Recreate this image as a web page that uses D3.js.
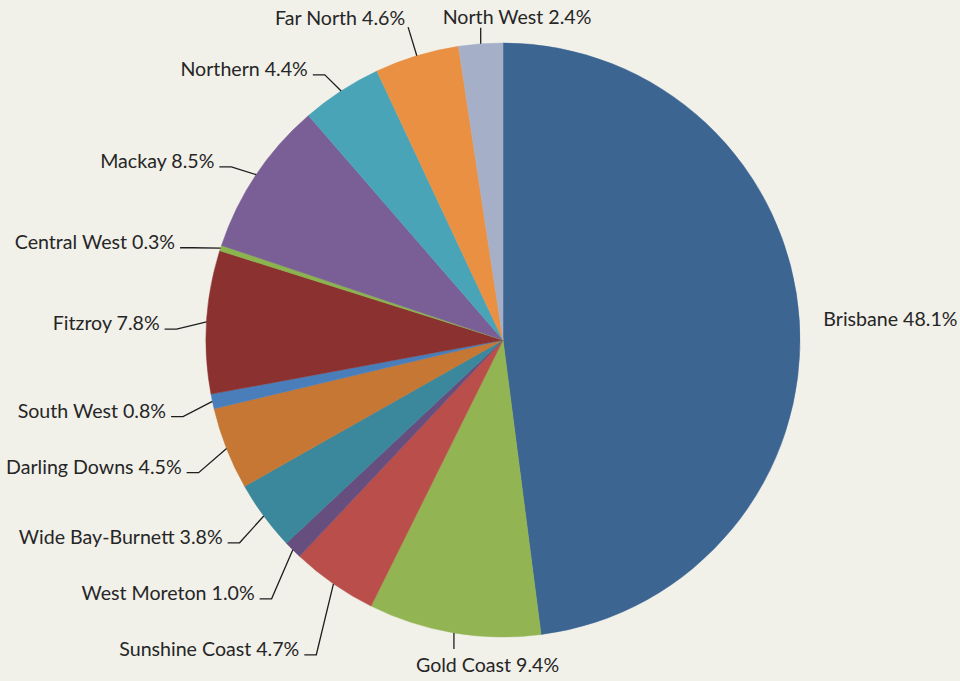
<!DOCTYPE html>
<html>
<head>
<meta charset="utf-8">
<script src="https://cdn.jsdelivr.net/npm/d3@7"></script>
<style>
  html, body { margin: 0; padding: 0; background: #f1f0e9; }
  svg { display: block; }
  text { font-family: Lato, "Open Sans", sans-serif; fill: #262626; }
</style>
</head>
<body>
<svg id="chart" width="960" height="681"></svg>
<script>
// Share of total by region, clockwise from 12 o'clock
const regions = [
  "Brisbane", "Gold Coast", "Sunshine Coast", "West Moreton", "Wide Bay-Burnett",
  "Darling Downs", "South West", "Fitzroy", "Central West", "Mackay",
  "Northern", "Far North", "North West"
];
const shares = [48.1, 9.4, 4.7, 1.0, 3.8, 4.5, 0.8, 7.8, 0.3, 8.5, 4.4, 4.6, 2.4];
const sliceColors = [
  "#3d6592", "#93b452", "#b94e4b", "#664e7e", "#3b879b",
  "#c57733", "#4a7ebb", "#8b3230", "#8bb34e", "#7a5f96",
  "#4aa4b8", "#ea9043", "#a5b0c8"
];

const W = 960, H = 681;
const cx = 503, cy = 340, R = 297;

const svg = d3.select("#chart");
svg.append("rect").attr("width", W).attr("height", H).attr("fill", "#f1f0e9");

const data = regions.map((name, i) => ({ name, value: shares[i], color: sliceColors[i] }));

const pie = d3.pie().value(d => d.value).sort(null);
const arc = d3.arc().innerRadius(0).outerRadius(R);
const arcs = pie(data);

const g = svg.append("g").attr("transform", `translate(${cx},${cy})`);

g.selectAll("path.slice")
  .data(arcs)
  .join("path")
  .attr("class", "slice")
  .attr("d", arc)
  .attr("fill", d => d.data.color)
  .attr("stroke", d => d.data.color)
  .attr("stroke-width", 0.5);

// Label layout
const polar = (a, r) => [r * Math.sin(a), -r * Math.cos(a)];
const fmt = d => `${d.data.name} ${d.data.value.toFixed(1)}%`;

const labels = arcs.map(d => {
  const mid = (d.startAngle + d.endAngle) / 2;
  const s = Math.sin(mid);
  const edge = polar(mid, R);
  let type;
  if (s > 0.3) type = "right";
  else if (Math.abs(s) < 0.2) type = "vertical";
  else if (Math.abs(s) < 0.3) type = "corner";
  else type = "side";
  const lab = { d, mid, edge, type };
  if (type === "right") {
    lab.pos = polar(mid, R + 24);
  } else if (type === "vertical") {
    const up = Math.cos(mid) > 0;
    lab.up = up;
    lab.elbow = [edge[0], edge[1] + (up ? -16 : 16)];
  } else if (type === "corner") {
    lab.elbow = polar(mid, R + 30);
  } else {
    const p = polar(mid, R + 30);
    lab.elbow = [p[0], p[1] + 9];
  }
  return lab;
});

// Keep left-side labels apart, pushing downward
const side = labels.filter(l => l.type === "side").sort((a, b) => a.elbow[1] - b.elbow[1]);
const minGap = 56;
for (let i = 1; i < side.length; i++) {
  if (side[i].elbow[1] < side[i - 1].elbow[1] + minGap) {
    side[i].elbow[1] = side[i - 1].elbow[1] + minGap;
  }
}

const lineG = g.append("g")
  .attr("fill", "none")
  .attr("stroke", "#1e1e1e")
  .attr("stroke-width", 1.3);
const textG = g.append("g").attr("font-size", 19.6);

labels.forEach(l => {
  const t = textG.append("text").text(fmt(l.d));
  if (l.type === "right") {
    t.attr("x", l.pos[0]).attr("y", l.pos[1] + 7).attr("text-anchor", "start");
  } else if (l.type === "vertical") {
    lineG.append("path").attr("d", d3.line()([l.edge, l.elbow]));
    t.attr("x", l.elbow[0] - 38)
      .attr("y", l.up ? l.elbow[1] - 4 : l.elbow[1] + 23)
      .attr("text-anchor", "start");
  } else if (l.type === "corner") {
    lineG.append("path").attr("d", d3.line()([l.edge, l.elbow]));
    t.attr("x", l.elbow[0] - 3).attr("y", l.elbow[1] - 2).attr("text-anchor", "end");
  } else {
    const tail = [l.elbow[0] - 12, l.elbow[1]];
    lineG.append("path").attr("d", d3.line()([l.edge, l.elbow, tail]));
    t.attr("x", tail[0] - 5).attr("y", l.elbow[1] + 1).attr("text-anchor", "end");
  }
});
</script>
</body>
</html>
